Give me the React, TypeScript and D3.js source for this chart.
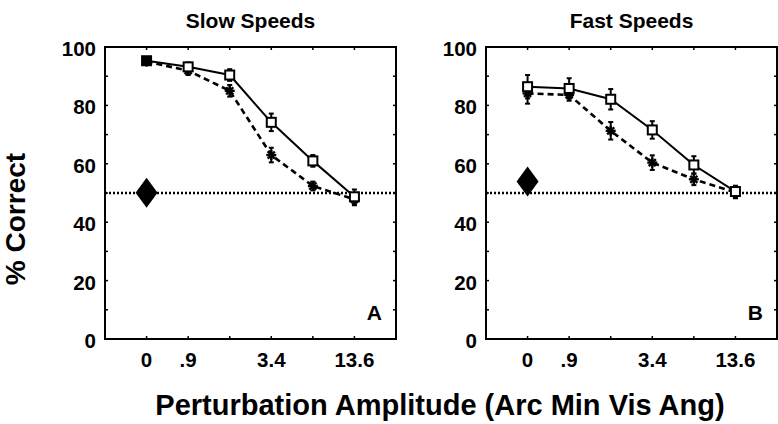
import React from "react";
import * as d3 from "d3";

const W = 778;
const H = 424;

const xIndex = [0, 1, 2, 3, 4, 5];
const xTickLabels = ["0", ".9", "", "3.4", "", "13.6"];
const yTicksMajor = [0, 20, 40, 60, 80, 100];
const yTicksMinor = [0, 10, 20, 30, 40, 50, 60, 70, 80, 90, 100];

const slowSquares = [95.3, 93.2, 90.4, 74.2, 61.0, 48.7];
const slowSquaresErr = [1, 1.5, 2, 3, 2, 2.5];
const slowStars = [95.0, 91.9, 85.0, 63.0, 52.4, 47.8];
const slowStarsErr = [1, 1.5, 2, 2.5, 1.5, 2];
const slowDiamond = 50.1;

const fastSquares = [86.4, 85.8, 82.1, 71.6, 59.6, 50.5];
const fastSquaresErr = [4, 3.5, 3.5, 3, 3, 2];
const fastStars = [84.1, 83.6, 71.3, 60.4, 54.7, 50.2];
const fastStarsErr = [3.5, 2, 3, 2.5, 2, 2];
const fastDiamond = 53.9;

const chanceLevel = 50;

const panels = [
  { title: "Slow Speeds", letter: "A", x0: 105, squares: slowSquares, sqErr: slowSquaresErr, stars: slowStars, stErr: slowStarsErr, diamond: slowDiamond },
  { title: "Fast Speeds", letter: "B", x0: 486, squares: fastSquares, sqErr: fastSquaresErr, stars: fastStars, stErr: fastStarsErr, diamond: fastDiamond },
];

const TOP = 47;
const BOTTOM = 339;
const PW = 291;
const FONT = "'Liberation Sans', Arial, Helvetica, sans-serif";

function Star({ cx, cy }: { cx: number; cy: number }) {
  const r = 5;
  const angles = [0, 45, 90, 135];
  return (
    <g stroke="#000" strokeWidth={2.4}>
      {angles.map((a) => {
        const rad = (a * Math.PI) / 180;
        return (
          <line key={a} x1={cx - r * Math.cos(rad)} y1={cy - r * Math.sin(rad)} x2={cx + r * Math.cos(rad)} y2={cy + r * Math.sin(rad)} />
        );
      })}
    </g>
  );
}

function ErrBar({ cx, y1, y2 }: { cx: number; y1: number; y2: number }) {
  return (
    <g stroke="#000" strokeWidth={2}>
      <line x1={cx} x2={cx} y1={y1} y2={y2} />
      <line x1={cx - 2.5} x2={cx + 2.5} y1={y1} y2={y1} />
      <line x1={cx - 2.5} x2={cx + 2.5} y1={y2} y2={y2} />
    </g>
  );
}

function Panel({ p }: { p: (typeof panels)[number] }) {
  const x = d3.scaleLinear().domain([-1, 6]).range([p.x0, p.x0 + PW]);
  const y = d3.scaleLinear().domain([0, 100]).range([BOTTOM, TOP]);
  const line = d3
    .line<number>()
    .x((_, i) => x(xIndex[i]))
    .y((d) => y(d));
  const left = p.x0;
  const right = p.x0 + PW;
  return (
    <g>
      <text x={(left + right) / 2} y={28} textAnchor="middle" fontFamily={FONT} fontWeight="bold" fontSize={21}>
        {p.title}
      </text>
      <line x1={left} x2={right} y1={y(chanceLevel)} y2={y(chanceLevel)} stroke="#000" strokeWidth={2.4} strokeDasharray="2 2" />
      {p.stars.map((v, i) => (
        <ErrBar key={"se" + i} cx={x(xIndex[i])} y1={y(v + p.stErr[i])} y2={y(v - p.stErr[i])} />
      ))}
      {p.squares.map((v, i) => (
        <ErrBar key={"qe" + i} cx={x(xIndex[i])} y1={y(v + p.sqErr[i])} y2={y(v - p.sqErr[i])} />
      ))}
      <path d={line(p.stars) || ""} fill="none" stroke="#000" strokeWidth={2.6} strokeDasharray="6 4" />
      <path d={line(p.squares) || ""} fill="none" stroke="#000" strokeWidth={2} />
      {p.stars.map((v, i) => (
        <Star key={"s" + i} cx={x(xIndex[i])} cy={y(v)} />
      ))}
      {p.squares.map((v, i) => (
        <rect key={"q" + i} x={x(xIndex[i]) - 4.5} y={y(v) - 4.5} width={9} height={9} fill={i === 0 && p.letter === "A" ? "#000" : "#fff"} stroke="#000" strokeWidth={2} />
      ))}
      <path
        d={`M${x(0)},${y(p.diamond) - 15} L${x(0) + 11},${y(p.diamond)} L${x(0)},${y(p.diamond) + 15} L${x(0) - 11},${y(p.diamond)} Z`}
        fill="#000"
      />
      <rect x={left} y={TOP} width={PW} height={BOTTOM - TOP} fill="none" stroke="#000" strokeWidth={2} />
      {yTicksMinor.map((t) => (
        <g key={"yt" + t} stroke="#000" strokeWidth={1.5}>
          <line x1={left} x2={left + 3} y1={y(t)} y2={y(t)} />
          <line x1={right} x2={right - 3} y1={y(t)} y2={y(t)} />
        </g>
      ))}
      {yTicksMajor.map((t) => (
        <text key={"yl" + t} x={left - 9} y={y(t) + 9} textAnchor="end" fontFamily={FONT} fontWeight="bold" fontSize={20.5}>
          {t}
        </text>
      ))}
      {xIndex.map((t, i) => (
        <g key={"xt" + t}>
          <line x1={x(t)} x2={x(t)} y1={BOTTOM} y2={BOTTOM - 3} stroke="#000" strokeWidth={1.5} />
          <line x1={x(t)} x2={x(t)} y1={TOP} y2={TOP + 3} stroke="#000" strokeWidth={1.5} />
          {xTickLabels[i] && (
            <text x={x(t)} y={BOTTOM + 28} textAnchor="middle" fontFamily={FONT} fontWeight="bold" fontSize={20.5}>
              {xTickLabels[i]}
            </text>
          )}
        </g>
      ))}
      <text x={right - 14} y={320} textAnchor="end" fontFamily={FONT} fontWeight="bold" fontSize={21}>
        {p.letter}
      </text>
    </g>
  );
}

export default function App() {
  return (
    <svg width={W} height={H} style={{ position: "absolute", left: 0, top: 0, background: "#fff" }}>
      <rect width={W} height={H} fill="#fff" />
      {panels.map((p) => (
        <Panel key={p.letter} p={p} />
      ))}
      <text transform="translate(25,219) rotate(-90)" textAnchor="middle" fontFamily={FONT} fontWeight="bold" fontSize={28}>
        % Correct
      </text>
      <text x={440} y={415} textAnchor="middle" fontFamily={FONT} fontWeight="bold" fontSize={29}>
        Perturbation Amplitude (Arc Min Vis Ang)
      </text>
    </svg>
  );
}
